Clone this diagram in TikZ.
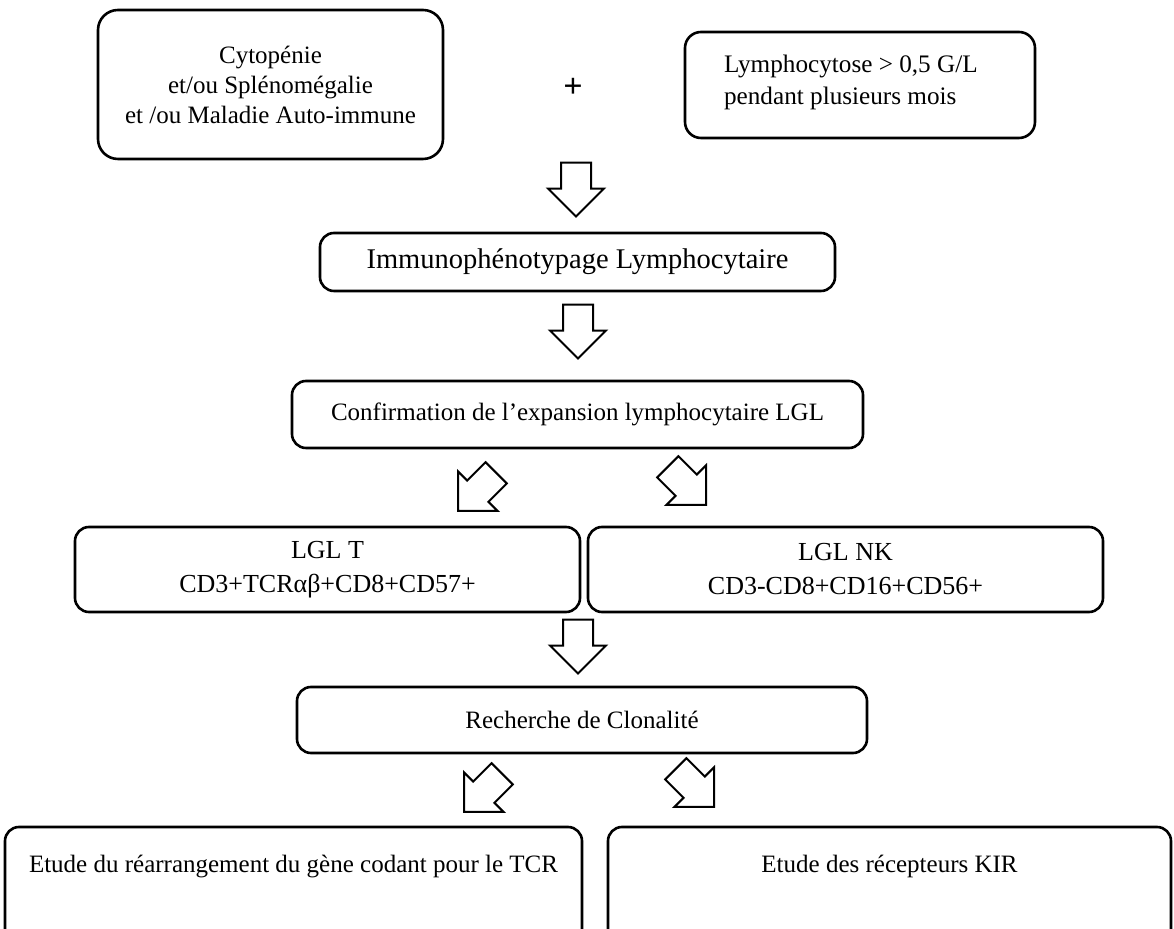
\documentclass[tikz,border=0pt]{standalone}
\usepackage{fontspec}
\setmainfont{Liberation Serif}
\usetikzlibrary{shapes.arrows}

\tikzset{
  box/.style={draw, rounded corners=7pt, line width=1.3pt, inner sep=0pt, align=center,
    font=\fontsize{12.5}{15}\selectfont},
  bigarrow/.style={draw, single arrow, single arrow tip angle=90,
    single arrow head extend=6.5pt, inner xsep=0pt, inner ysep=7pt,
    minimum height=27pt, line width=1pt, anchor=tip},
}

\begin{document}
\begin{tikzpicture}[x=0.5pt, y=-0.5pt]
\path[use as bounding box, clip] (0,0) rectangle (1174,929);
% top line
\node[box, rounded corners=10pt, minimum width=172.5pt, minimum height=74.5pt] (signs) at (270.5,84.5) {Cytopénie\\et/ou Splénomégalie\\et /ou Maladie Auto-immune};
\node[font=\fontsize{17}{17}\selectfont\bfseries] (plus) at (573,88) {+};
\node[box, rounded corners=8pt, minimum width=175pt, minimum height=53pt] (lympho) at (860,85) {};
\node[anchor=west, align=left, inner sep=0pt, font=\fontsize{12.6}{16}\selectfont] (lymphotext) at ([xshift=20pt,yshift=1.5pt]lympho.west) {Lymphocytose > 0,5 G/L\\pendant plusieurs mois};
\node[bigarrow, rotate=-90] (down1) at (576,218) {};
% phenotype
\node[box, minimum width=257.5pt, minimum height=29pt, font=\fontsize{14.25}{16}\selectfont] (immuno) at (577.5,262) {Immunophénotypage Lymphocytaire};
\node[bigarrow, rotate=-90] (down2) at (578,360) {};
\node[box, minimum width=285.5pt, minimum height=33.5pt] (confirm) at (577.5,414.5) {Confirmation de l’expansion lymphocytaire LGL};
\node[bigarrow, rotate=-135] (left1) at (457,512) {};
\node[bigarrow, rotate=-45] (right1) at (707,506) {};
% LGL types
\node[box, minimum width=252.5pt, minimum height=42.5pt, font=\fontsize{13}{17}\selectfont] (lglt) at (327.5,569.5) {LGL T\\CD3+TCRαβ+CD8+CD57+};
\node[box, minimum width=257.5pt, minimum height=42.5pt, font=\fontsize{13}{17}\selectfont] (lglnk) at (845.5,569.5) {LGL NK\\CD3-CD8+CD16+CD56+};
\node[bigarrow, rotate=-90] (down3) at (578,675) {};
% clonality
\node[box, minimum width=285pt, minimum height=33pt] (clone) at (582,720) {Recherche de Clonalité};
\node[bigarrow, rotate=-135] (left2) at (463,813) {};
\node[bigarrow, rotate=-45] (right2) at (715,808) {};
\node[box, minimum width=288.5pt, minimum height=65pt] (tcr) at (293.5,892) {};
\node[font=\fontsize{12.5}{15}\selectfont] (tcrtext) at ([yshift=-20.5pt]tcr.north) {Etude du réarrangement du gène codant pour le TCR};
\node[box, minimum width=281.5pt, minimum height=65pt] (kir) at (889.5,892) {};
\node[font=\fontsize{12.5}{15}\selectfont] (kirtext) at ([yshift=-20.5pt]kir.north) {Etude des récepteurs KIR};
\end{tikzpicture}
\end{document}
